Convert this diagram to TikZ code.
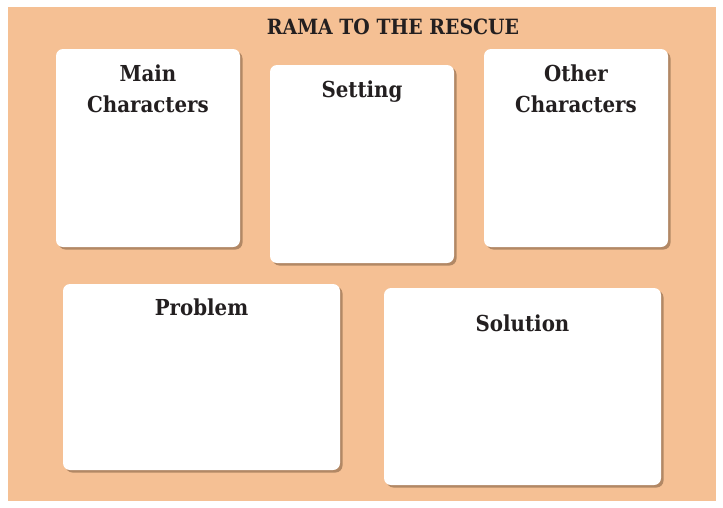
\documentclass[tikz,border=0pt]{standalone}
\usepackage{fontspec}
\setmainfont[FakeStretch=0.9]{DejaVu Serif}
\usetikzlibrary{shadows}
\definecolor{peach}{HTML}{F5C094}
\definecolor{inkdark}{HTML}{231F20}
\definecolor{shadowbrown}{HTML}{9C7656}
\tikzset{chartbox/.style={fill=white, rounded corners=7pt, inner sep=0pt,
    drop shadow={shadow xshift=2.5pt, shadow yshift=-2.5pt, fill=shadowbrown, opacity=0.75}},
  boxhead/.style={text=inkdark, font=\bfseries\fontsize{22}{31}\selectfont, align=center, inner sep=0pt}}

\begin{document}
\begin{tikzpicture}[x=1pt, y=-1pt]
        \useasboundingbox (0,0) rectangle (723,507);
        \fill[peach] (8,7) rectangle (716,501);
        \node[boxhead, anchor=base, font=\bfseries\fontsize{21}{31}\selectfont] (title) at (393,34) {RAMA TO THE RESCUE};
        % top row
        \node[chartbox, minimum width=184pt, minimum height=198pt] (main) at (148,148) {};
        \node[chartbox, minimum width=184pt, minimum height=198pt] (setting) at (362,164) {};
        \node[chartbox, minimum width=184pt, minimum height=198pt] (other) at (576,148) {};
        % bottom row
        \node[chartbox, minimum width=277pt, minimum height=186pt] (problem) at (201.5,377) {};
        \node[chartbox, minimum width=277pt, minimum height=197pt] (solution) at (522.5,386.5) {};
        \node[boxhead, anchor=base] (mainhead) at (148,81) {Main};
        \node[boxhead, anchor=base] (mainhead2) at (148,112) {Characters};
        \node[boxhead, anchor=base] (settinghead) at (362,97) {Setting};
        \node[boxhead, anchor=base] (otherhead) at (576,81) {Other};
        \node[boxhead, anchor=base] (otherhead2) at (576,112) {Characters};
        \node[boxhead, anchor=base] (problemhead) at (201.5,315) {Problem};
        \node[boxhead, anchor=base] (solutionhead) at (522.5,331) {Solution};
      \end{tikzpicture}
\end{document}
